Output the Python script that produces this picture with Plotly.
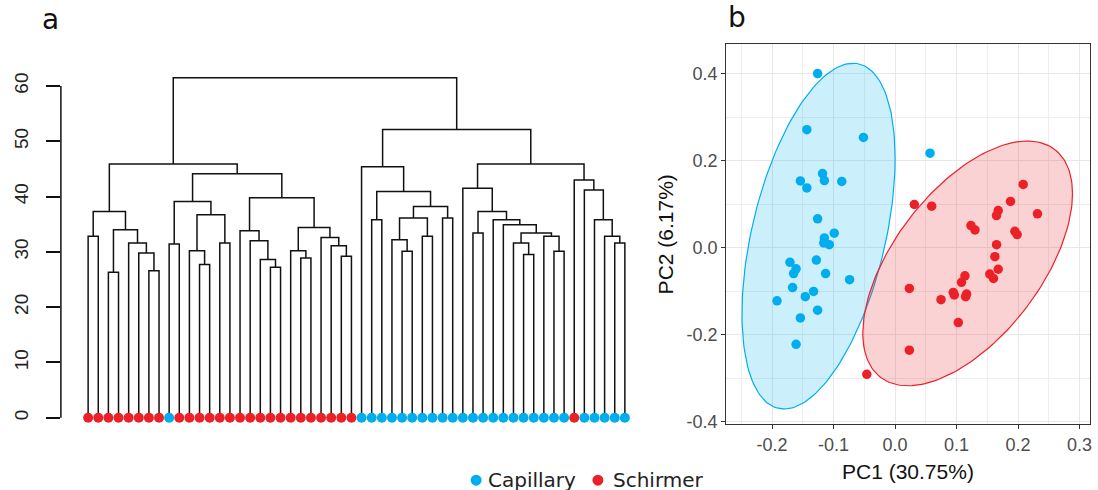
import numpy as np
import plotly.graph_objects as go

W, H = 1098, 500
SY = 0.9815  # observed vertical scale of the photographed page; layout positions are pre-compensated

# ---------------- Panel a: hierarchical clustering ----------------
# leaf order (left to right) and group of each leaf: S = Schirmer, C = Capillary
leaf_groups = (["S"] * 8 + ["C"] + ["S"] * 18 + ["C"] * 21 + ["S"] + ["C"] * 5)

# merges: (child_a, child_b, height); ints = leaf positions, "N#" = earlier merge
merges = [
    (0, 1, 32.8), (6, 7, 26.6), (5, "N1", 29.8), (4, "N2", 31.6), (2, 3, 26.3),
    ("N4", "N3", 34.0), ("N0", "N5", 37.3), (8, 9, 31.4), (11, 12, 27.7),
    (10, "N8", 30.2), (13, 14, 31.6), ("N9", "N10", 36.7), ("N7", "N11", 39.1),
    (18, 19, 27.2), (17, "N13", 28.6), (16, "N14", 32.0), (15, "N15", 33.8),
    (21, 22, 28.9), (20, "N17", 30.2), (25, 26, 29.2), (24, "N19", 31.1),
    (23, "N20", 32.6), ("N18", "N21", 34.4), ("N16", "N22", 39.8),
    ("N12", "N23", 44.1), ("N6", "N24", 45.9),
    (28, 29, 35.8), (31, 32, 30.1), (30, "N27", 32.2), (33, 34, 32.8),
    ("N28", "N29", 36.1), (35, 36, 36.1), ("N30", "N31", 38.2),
    ("N26", "N32", 40.9), (27, "N33", 45.4), (38, 39, 33.4), (43, 44, 29.5),
    (42, "N36", 31.6), (46, 47, 30.1), (45, "N38", 32.8), ("N37", "N39", 33.4),
    (41, "N40", 34.9), (40, "N41", 35.8), ("N35", "N42", 37.3),
    (37, "N43", 41.5), (52, 53, 31.6), (51, "N45", 32.8), (50, "N46", 35.8),
    (49, "N47", 41.2), (48, "N48", 43.0), ("N44", "N49", 45.9),
    ("N34", "N50", 52.1), ("N25", "N51", 61.5),
]
height_ticks = [0, 10, 20, 30, 40, 50, 60]

# ---------------- Panel b: PCA scores ----------------
cap_pc1 = [-0.126, -0.1435, -0.0515, -0.154, -0.1435, -0.118, -0.115, -0.0867,
           -0.126, -0.099, -0.115, -0.116, -0.107, -0.128, -0.171, -0.161,
           -0.165, -0.113, -0.074, -0.1667, -0.1326, -0.146, -0.192, -0.126,
           -0.154, -0.161, 0.0568]
cap_pc2 = [0.401, 0.272, 0.254, 0.154, 0.138, 0.171, 0.155, 0.153,
           0.067, 0.034, 0.023, 0.0115, 0.0076, -0.028, -0.033, -0.048,
           -0.059, -0.059, -0.073, -0.091, -0.100, -0.112, -0.1216, -0.143,
           -0.161, -0.2215, 0.218]
sch_pc1 = [0.0313, 0.0595, 0.2083, 0.1877, 0.1677, 0.165, 0.2315, 0.1234,
           0.1299, 0.1948, 0.1985, 0.165, 0.1623, 0.1677, 0.154, 0.160,
           0.1136, 0.108, 0.0946, 0.1163, 0.1147, 0.0963, 0.0747, 0.0232,
           0.1028, 0.0232, -0.046]
sch_pc2 = [0.0999, 0.096, 0.146, 0.107, 0.086, 0.0745, 0.0784, 0.0514,
           0.0415, 0.0383, 0.0307, 0.0076, -0.020, -0.049, -0.060, -0.070,
           -0.064, -0.079, -0.1024, -0.106, -0.112, -0.108, -0.119, -0.093,
           -0.1716, -0.235, -0.2907]
pc1_ticks = [-0.2, -0.1, 0.0, 0.1, 0.2, 0.3]
pc2_ticks = [-0.4, -0.2, 0.0, 0.2, 0.4]

# 95% ellipses: centre, half-extent along PC1 / PC2, correlation
ell_groups = ["Capillary", "Schirmer"]
ell_center_pc1 = [-0.1245, 0.118]
ell_center_pc2 = [0.0272, -0.0355]
ell_half_pc1 = [0.1245, 0.1705]
ell_half_pc2 = [0.3975, 0.2814]
ell_rho = [0.45, 0.57]

BLUE = "#00AEEF"
RED = "#EC2027"
color_of = {"C": BLUE, "S": RED}


def py(p):
    """target pixel row (from top) -> paper y"""
    return 1 - (p / SY) / H


# ---------- dendrogram geometry from merges ----------
pos, hgt = {}, {}
for i in range(len(leaf_groups)):
    pos[i] = float(i)
    hgt[i] = 0.0
lx, ly = [], []
for k, (a, b, h) in enumerate(merges):
    xa, xb = pos[a], pos[b]
    lx += [xa, xa, xb, xb, None]
    ly += [hgt[a], h, h, hgt[b], None]
    pos["N%d" % k] = (xa + xb) / 2
    hgt["N%d" % k] = h

fig = go.Figure()

# panel a traces
fig.add_trace(go.Scatter(x=lx, y=ly, mode="lines", line=dict(color="#111111", width=1.5),
                         xaxis="x", yaxis="y", hoverinfo="skip", showlegend=False))
fig.add_trace(go.Scatter(x=list(range(len(leaf_groups))), y=[0] * len(leaf_groups),
                         mode="markers", xaxis="x", yaxis="y", showlegend=False,
                         marker=dict(size=10, color=[color_of[g] for g in leaf_groups])))

# panel b ellipses
t = np.linspace(0, 2 * np.pi, 181)
for i, (col, fillc) in enumerate([(BLUE, "rgba(0,174,239,0.2)"), (RED, "rgba(236,32,39,0.2)")]):
    r = ell_rho[i]
    ex = ell_center_pc1[i] + ell_half_pc1[i] * np.cos(t)
    ey = ell_center_pc2[i] + ell_half_pc2[i] * (r * np.cos(t) + np.sqrt(1 - r * r) * np.sin(t))
    fig.add_trace(go.Scatter(x=ex, y=ey, mode="lines", fill="toself", fillcolor=fillc,
                             line=dict(color=col, width=1.2), xaxis="x2", yaxis="y2",
                             hoverinfo="skip", showlegend=False, name=ell_groups[i]))
for xs, ys, col in [(cap_pc1, cap_pc2, BLUE), (sch_pc1, sch_pc2, RED)]:
    fig.add_trace(go.Scatter(x=xs, y=ys, mode="markers", xaxis="x2", yaxis="y2",
                             marker=dict(size=9.5, color=col), showlegend=False))

# panel a axes
n_leaf = len(leaf_groups)
ppu = (626 - 88.3) / (n_leaf - 1)
xa0 = -(88.3 - 61) / ppu
xa1 = xa0 + (640 - 61) / ppu
ya_ppu = (416.7 - 85.7) / 60
ya0 = -(440 - 416.7) / ya_ppu
ya1 = (416.7 - 30) / ya_ppu

AX_FONT = "Liberation Sans, Arial, sans-serif"
fig.update_layout(
    width=W, height=H, autosize=False, margin=dict(l=0, r=0, t=0, b=0),
    paper_bgcolor="white", plot_bgcolor="white",
    xaxis=dict(domain=[61 / W, 640 / W], range=[xa0, xa1], visible=False, anchor="y"),
    yaxis=dict(domain=[py(440), py(30)], range=[ya0, ya1], anchor="x",
               tickvals=height_ticks, ticktext=[str(v) for v in height_ticks],
               ticks="outside", ticklen=14, tickwidth=1.5, tickcolor="#111111",
               tickangle=-90, ticklabelstandoff=10,
               tickfont=dict(family=AX_FONT, size=19, color="#222222"),
               showgrid=False, zeroline=False, showline=False),
    xaxis2=dict(domain=[727.5 / W, 1092 / W], range=[-0.2747, 0.317], anchor="y2",
                tickvals=pc1_ticks, ticktext=["%.1f" % v for v in pc1_ticks],
                ticks="outside", ticklen=4, tickcolor="#333333",
                tickfont=dict(family=AX_FONT, size=18, color="#4D4D4D"),
                showgrid=True, gridcolor="#E8E8E8", gridwidth=1.2,
                minor=dict(dtick=0.05, tick0=0, showgrid=True, gridcolor="#EEEEEE", gridwidth=0.7),
                zeroline=False, showline=True, mirror=True, linecolor="#333333", linewidth=1.2),
    yaxis2=dict(domain=[py(423), py(44.3)], range=[-0.405, 0.468], anchor="x2",
                tickvals=pc2_ticks, ticktext=["%.1f" % v for v in pc2_ticks],
                ticks="outside", ticklen=4, tickcolor="#333333",
                tickfont=dict(family=AX_FONT, size=18, color="#4D4D4D"),
                showgrid=True, gridcolor="#E8E8E8", gridwidth=1.2,
                minor=dict(dtick=0.1, tick0=0.1, showgrid=True, gridcolor="#EEEEEE", gridwidth=0.7),
                zeroline=False, showline=True, mirror=True, linecolor="#333333", linewidth=1.2),
)

# panel a axis line (R base style: spans only tick range)
fig.add_shape(type="line", xref="x domain", yref="y", x0=0, x1=0,
              y0=height_ticks[0], y1=height_ticks[-1], line=dict(color="#111111", width=1.5))

LAB_FONT = "DejaVu Sans, Verdana, sans-serif"
ann = [
    dict(text="a", x=51 / W, y=py(19), font=dict(family=LAB_FONT, size=28, color="#111111")),
    dict(text="b", x=738 / W, y=py(17), font=dict(family=LAB_FONT, size=28, color="#111111")),
    dict(text="PC1 (30.75%)", x=910 / W, y=py(470), font=dict(family=AX_FONT, size=21, color="#111111")),
    dict(text="PC2 (6.17%)", x=667 / W, y=py(234), textangle=-90,
         font=dict(family=AX_FONT, size=21, color="#111111")),
    dict(text="Capillary", x=487 / W, y=py(479), xanchor="left",
         font=dict(family=LAB_FONT, size=20, color="#222222")),
    dict(text="Schirmer", x=612 / W, y=py(479), xanchor="left",
         font=dict(family=LAB_FONT, size=20, color="#222222")),
]
for a in ann:
    a.setdefault("xanchor", "center")
    fig.add_annotation(xref="paper", yref="paper", yanchor="middle", showarrow=False, **a)

for cx, col in [(477, BLUE), (599, RED)]:
    fig.add_shape(type="circle", xref="paper", yref="paper",
                  x0=(cx - 5.5) / W, x1=(cx + 5.5) / W,
                  y0=py(479 + 5.5), y1=py(479 - 5.5),
                  fillcolor=col, line=dict(width=0))

fig.write_html("out.html",
               config={"responsive": False, "displayModeBar": False},
               post_script="document.body.style.margin='0';document.body.style.padding='0';"
                           "document.body.style.overflow='hidden';")
